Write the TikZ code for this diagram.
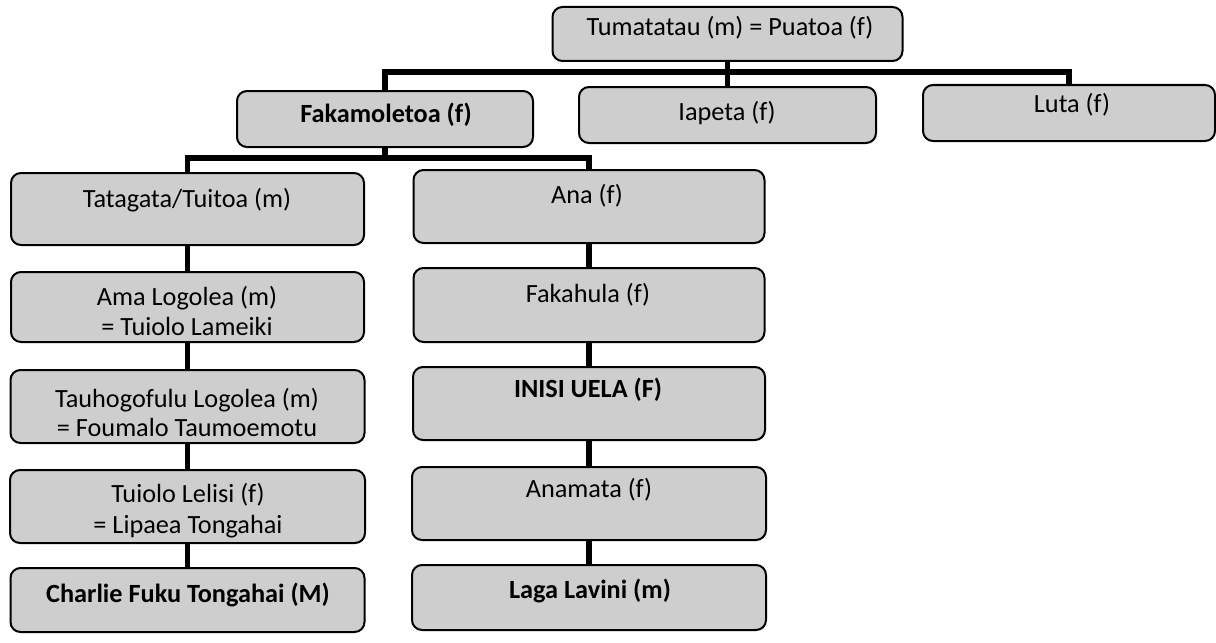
\documentclass[tikz,border=0pt]{standalone}
\usepackage{fontspec}
\setmainfont{Carlito}
\definecolor{boxgray}{RGB}{206,206,206}
\begin{document}
\begin{tikzpicture}[x=0.75pt,y=-0.75pt,
  box/.style={draw=black, line width=1.5pt, fill=boxgray, rounded corners=7.5pt, inner sep=0pt},
  txt/.style={anchor=base, inner sep=0pt, font=\fontsize{19.7pt}{23pt}\selectfont},
  btxt/.style={txt, font=\fontsize{19.7pt}{23pt}\selectfont\bfseries},
  conn/.style={draw=black, line width=3.8pt}]
\useasboundingbox (0,0) rectangle (1216,642);
% boxes
\node[box, minimum width=262.5pt, minimum height=40.5pt] (top) at (727.5,34) {};
\node[box, minimum width=222pt, minimum height=42pt] (fak) at (385,119) {};
\node[box, minimum width=222.75pt, minimum height=42pt] (iap) at (727.5,115) {};
\node[box, minimum width=219pt, minimum height=42pt] (luta) at (1069,113) {};
\node[box, minimum width=264.75pt, minimum height=54pt] (tat) at (187.5,209) {};
\node[box, minimum width=263.25pt, minimum height=54.75pt] (ana) at (589,206.5) {};
\node[box, minimum width=264.75pt, minimum height=52.5pt] (ama) at (187.5,307) {};
\node[box, minimum width=265.5pt, minimum height=54.75pt] (tauh) at (187.5,406.5) {};
\node[box, minimum width=266.25pt, minimum height=54.75pt] (tuio) at (187.5,506.5) {};
\node[box, minimum width=265.5pt, minimum height=48pt] (charlie) at (187.5,600) {};
\node[box, minimum width=263.25pt, minimum height=55.5pt] (fakah) at (589,305) {};
\node[box, minimum width=264pt, minimum height=54.75pt] (inisi) at (589,403.5) {};
\node[box, minimum width=265.5pt, minimum height=54.75pt] (anam) at (589,503.5) {};
\node[box, minimum width=265.5pt, minimum height=48.75pt] (laga) at (589,597.5) {};
% junctions
\coordinate (j1) at (727.5,72);
\coordinate (j2) at (385,158);
% connectors
\draw[conn] (top.south) -- (iap.north);
\draw[conn] (fak.north) |- (j1) -| (luta.north);
\draw[conn] (fak.south) -- (j2);
\draw[conn] (tat.north) |- (j2) -| (ana.north);
\draw[conn] (tat.south) -- (ama.north);
\draw[conn] (ama.south) -- (tauh.north);
\draw[conn] (tauh.south) -- (tuio.north);
\draw[conn] (tuio.south) -- (charlie.north);
\draw[conn] (ana.south) -- (fakah.north);
\draw[conn] (fakah.south) -- (inisi.north);
\draw[conn] (inisi.south) -- (anam.north);
\draw[conn] (anam.south) -- (laga.north);
% texts
\node[txt] (t-top) at (730,36) {Tumatatau (m) = Puatoa (f)};
\node[btxt] (t-fak) at (386,122) {Fakamoletoa (f)};
\node[txt] (t-iap) at (727,120) {Iapeta (f)};
\node[txt] (t-luta) at (1072,113) {Luta (f)};
\node[txt] (t-tat) at (187,207) {Tatagata/Tuitoa (m)};
\node[txt] (t-ana) at (587,203) {Ana (f)};
\node[txt] (t-ama1) at (187,305) {Ama Logolea (m)};
\node[txt] (t-ama2) at (187,335) {= Tuiolo Lameiki};
\node[txt] (t-tauh1) at (187,407) {Tauhogofulu Logolea (m)};
\node[txt] (t-tauh2) at (187,436) {= Foumalo Taumoemotu};
\node[txt] (t-tuio1) at (188,502) {Tuiolo Lelisi (f)};
\node[txt] (t-tuio2) at (188,533) {= Lipaea Tongahai};
\node[btxt] (t-charlie) at (188,602) {Charlie Fuku Tongahai (M)};
\node[txt] (t-fakah) at (588,302) {Fakahula (f)};
\node[btxt] (t-inisi) at (588,397) {INISI UELA (F)};
\node[txt] (t-anam) at (589,497) {Anamata (f)};
\node[btxt] (t-laga) at (590,598) {Laga Lavini (m)};
\end{tikzpicture}
\end{document}
